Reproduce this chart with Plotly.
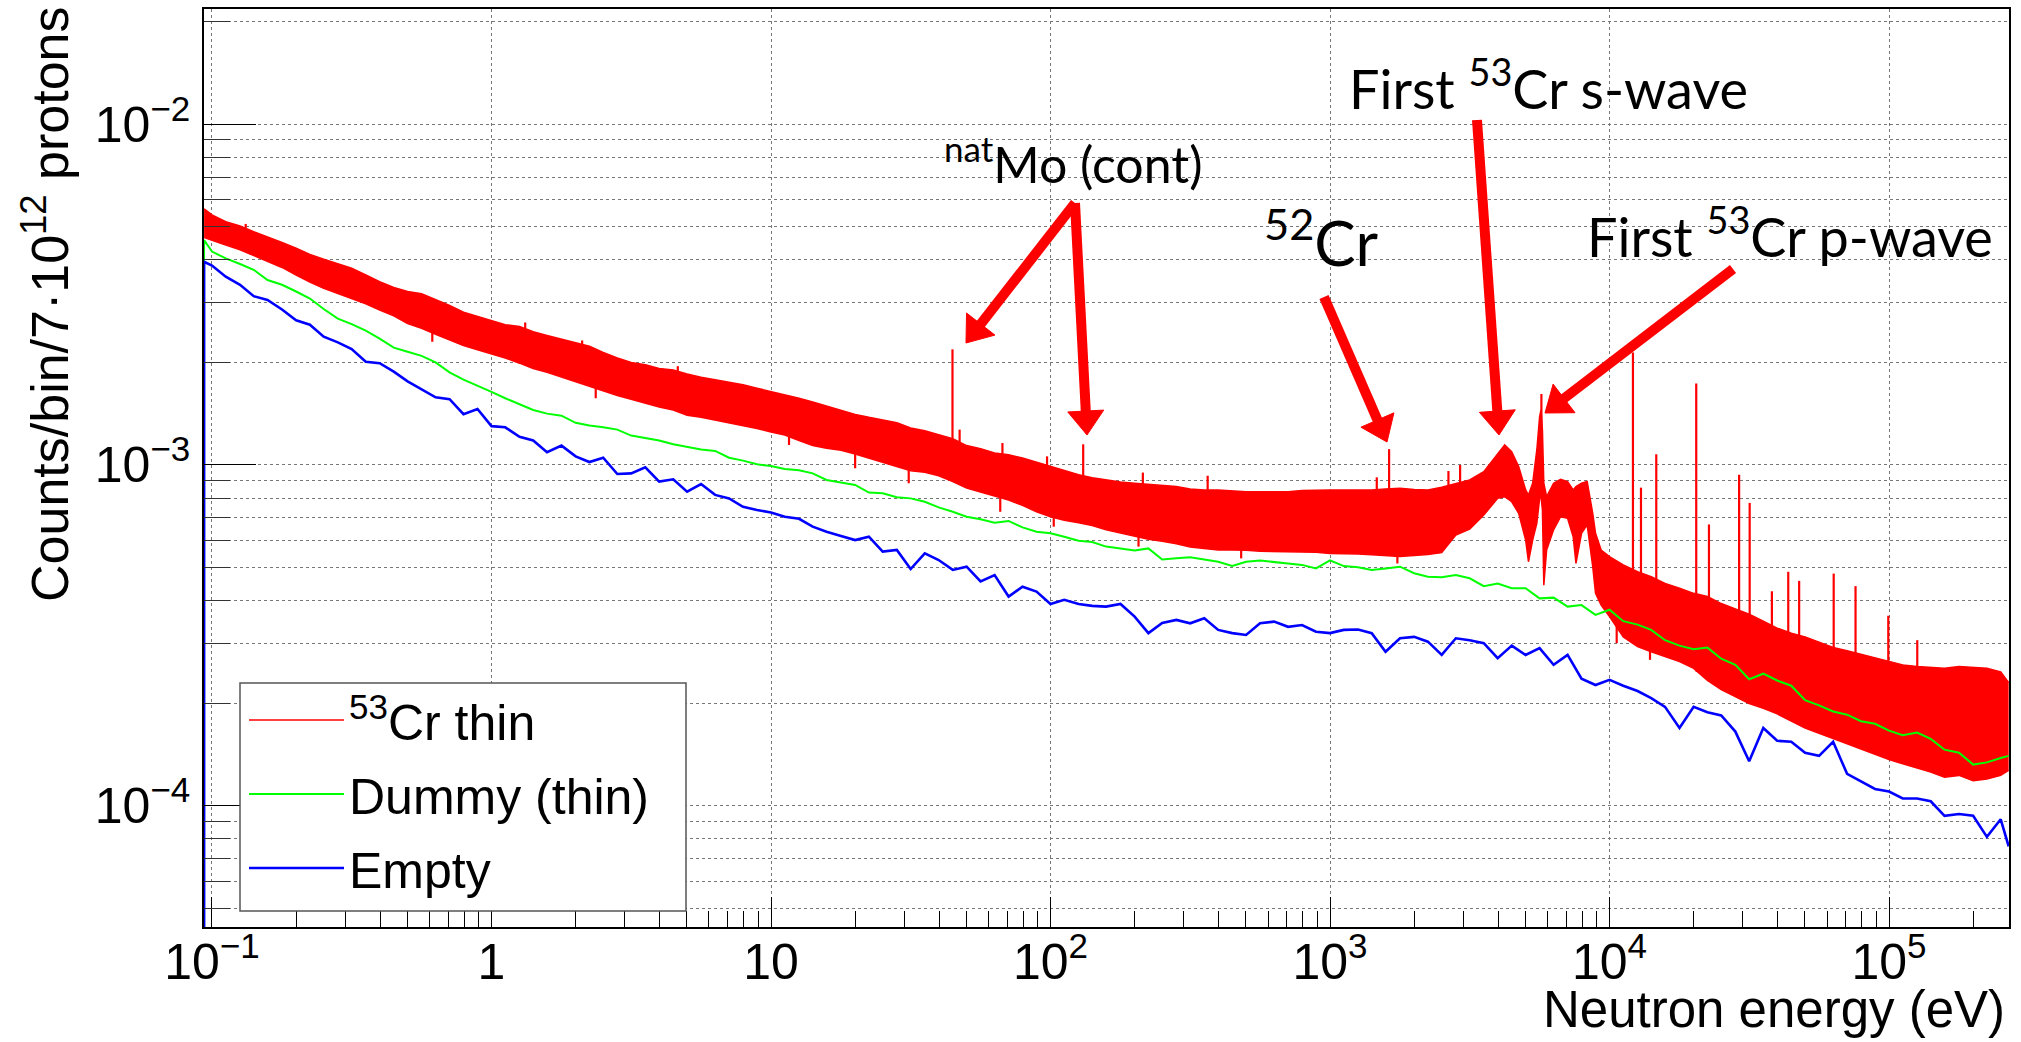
import math
import plotly.graph_objects as go

# ---------------- data ----------------
energy_ev = [
    0.0937,
    0.1, 0.112, 0.126, 0.141, 0.158, 0.178, 0.2, 0.224, 0.251, 0.282,
    0.316, 0.355, 0.398, 0.447, 0.501, 0.562, 0.631, 0.708, 0.794, 0.891,
    1.0, 1.12, 1.26, 1.41, 1.58, 1.78, 2.0, 2.24, 2.51, 2.82,
    3.16, 3.55, 3.98, 4.47, 5.01, 5.62, 6.31, 7.08, 7.94, 8.91,
    10, 11.2, 12.6, 14.1, 15.8, 17.8, 20, 22.4, 25.1, 28.2,
    31.6, 35.5, 39.8, 44.7, 50.1, 56.2, 63.1, 70.8, 79.4, 89.1,
    100, 112, 126, 141, 158, 178, 200, 224, 251, 282,
    316, 355, 398, 447, 501, 562, 631, 708, 794, 891,
    1000, 1120, 1260, 1410, 1580, 1780, 2000, 2240, 2510, 2820,
    3160, 3550, 3980, 4470, 5010, 5620, 6310, 7080, 7940, 8910,
    10000, 11200, 12600, 14100, 15800, 17800, 20000, 22400, 25100, 28200,
    31600, 35500, 39800, 44700, 50100, 56200, 63100, 70800, 79400, 89100,
    100000, 112000, 126000, 141000, 158000, 178000, 200000, 224000, 251000,
    268000,
]

dummy_thin = [
    4.57e-3,
    4.23e-3, 4.04e-3, 3.89e-3, 3.74e-3, 3.49e-3, 3.38e-3, 3.23e-3, 3.08e-3, 2.87e-3, 2.69e-3,
    2.59e-3, 2.48e-3, 2.35e-3, 2.21e-3, 2.15e-3, 2.09e-3, 2.00e-3, 1.87e-3, 1.78e-3, 1.71e-3,
    1.64e-3, 1.57e-3, 1.51e-3, 1.45e-3, 1.415e-3, 1.395e-3, 1.33e-3, 1.305e-3, 1.29e-3, 1.27e-3,
    1.22e-3, 1.20e-3, 1.18e-3, 1.15e-3, 1.13e-3, 1.11e-3, 1.10e-3, 1.05e-3, 1.03e-3, 1.005e-3,
    9.93e-4, 9.73e-4, 9.65e-4, 9.45e-4, 9.04e-4, 8.87e-4, 8.74e-4, 8.30e-4, 8.26e-4, 8.04e-4,
    7.98e-4, 7.80e-4, 7.51e-4, 7.29e-4, 7.05e-4, 6.93e-4, 6.77e-4, 6.85e-4, 6.56e-4, 6.37e-4,
    6.30e-4, 6.16e-4, 5.99e-4, 5.94e-4, 5.76e-4, 5.69e-4, 5.61e-4, 5.69e-4, 5.28e-4, 5.32e-4,
    5.36e-4, 5.28e-4, 5.20e-4, 5.05e-4, 5.20e-4, 5.24e-4, 5.20e-4, 5.14e-4, 5.09e-4, 4.97e-4,
    5.25e-4, 5.05e-4, 5.01e-4, 4.92e-4, 4.97e-4, 5.03e-4, 4.81e-4, 4.70e-4, 4.68e-4, 4.75e-4,
    4.65e-4, 4.41e-4, 4.49e-4, 4.35e-4, 4.35e-4, 4.06e-4, 4.08e-4, 3.84e-4, 3.88e-4, 3.63e-4,
    3.76e-4, 3.48e-4, 3.40e-4, 3.28e-4, 3.06e-4, 2.95e-4, 2.88e-4, 2.91e-4, 2.70e-4, 2.59e-4,
    2.35e-4, 2.44e-4, 2.33e-4, 2.25e-4, 2.04e-4, 1.97e-4, 1.89e-4, 1.85e-4, 1.77e-4, 1.74e-4,
    1.66e-4, 1.61e-4, 1.64e-4, 1.57e-4, 1.46e-4, 1.43e-4, 1.32e-4, 1.34e-4, 1.38e-4,
    1.40e-4,
]

empty = [
    3.95e-3,
    3.85e-3, 3.57e-3, 3.38e-3, 3.13e-3, 3.05e-3, 2.86e-3, 2.66e-3, 2.58e-3, 2.38e-3, 2.29e-3,
    2.19e-3, 2.01e-3, 1.99e-3, 1.88e-3, 1.76e-3, 1.67e-3, 1.58e-3, 1.56e-3, 1.41e-3, 1.46e-3,
    1.30e-3, 1.29e-3, 1.21e-3, 1.18e-3, 1.09e-3, 1.14e-3, 1.06e-3, 1.02e-3, 1.05e-3, 9.41e-4,
    9.45e-4, 9.84e-4, 8.94e-4, 9.08e-4, 8.35e-4, 8.79e-4, 8.17e-4, 7.98e-4, 7.54e-4, 7.38e-4,
    7.25e-4, 7.05e-4, 6.95e-4, 6.59e-4, 6.37e-4, 6.19e-4, 6.02e-4, 6.16e-4, 5.57e-4, 5.63e-4,
    4.95e-4, 5.50e-4, 5.26e-4, 4.92e-4, 5.03e-4, 4.55e-4, 4.75e-4, 4.11e-4, 4.39e-4, 4.25e-4,
    3.91e-4, 4.02e-4, 3.91e-4, 3.86e-4, 3.84e-4, 3.91e-4, 3.59e-4, 3.21e-4, 3.44e-4, 3.51e-4,
    3.43e-4, 3.55e-4, 3.28e-4, 3.21e-4, 3.17e-4, 3.43e-4, 3.47e-4, 3.35e-4, 3.39e-4, 3.24e-4,
    3.21e-4, 3.28e-4, 3.29e-4, 3.21e-4, 2.83e-4, 3.10e-4, 3.13e-4, 3.03e-4, 2.77e-4, 3.10e-4,
    3.06e-4, 3.00e-4, 2.71e-4, 2.95e-4, 2.77e-4, 2.90e-4, 2.59e-4, 2.77e-4, 2.36e-4, 2.26e-4,
    2.34e-4, 2.25e-4, 2.17e-4, 2.07e-4, 1.95e-4, 1.69e-4, 1.95e-4, 1.88e-4, 1.84e-4, 1.65e-4,
    1.35e-4, 1.69e-4, 1.55e-4, 1.54e-4, 1.43e-4, 1.40e-4, 1.54e-4, 1.24e-4, 1.18e-4, 1.12e-4,
    1.10e-4, 1.05e-4, 1.05e-4, 1.03e-4, 9.34e-5, 9.45e-5, 9.34e-5, 8.10e-5, 9.12e-5,
    7.6e-5,
]

cr53_energy_ev = [
    0.0937,
    0.1, 0.112, 0.126, 0.141, 0.158, 0.178, 0.2, 0.224, 0.251, 0.282,
    0.316, 0.355, 0.398, 0.447, 0.501, 0.562, 0.631, 0.708, 0.794, 0.891,
    1.0, 1.12, 1.26, 1.41, 1.58, 1.78, 2.0, 2.24, 2.51, 2.82,
    3.16, 3.55, 3.98, 4.47, 5.01, 5.62, 6.31, 7.08, 7.94, 8.91,
    10, 11.2, 12.6, 14.1, 15.8, 17.8, 20, 22.4, 25.1, 28.2,
    31.6, 35.5, 39.8, 44.7, 50.1, 56.2, 63.1, 70.8, 79.4, 89.1,
    100, 112, 126, 141, 158, 178, 200, 224, 251, 282,
    316, 355, 398, 447, 501, 562, 631, 708, 794, 891,
    1000, 1120, 1260, 1410, 1580, 1780, 2000, 2240, 2510, 2820,
    3160, 3550,
    3980, 4217, 4467, 4732, 5012, 5129, 5309, 5495, 5623, 5689, 5754, 5821,
    5957, 6310, 6683, 7079, 7413, 7586, 7943, 8318, 8710, 8913, 9333,
    10000, 11200, 12600, 14100, 15800, 17800, 20000, 22400, 25100, 28200,
    31600, 35500, 39800, 44700, 50100, 56200, 63100, 70800, 79400, 89100,
    100000, 112000, 126000, 141000, 158000, 178000, 200000, 224000, 251000,
    268000,
]

cr53_upper = [
    5.65e-3,
    5.42e-3, 5.18e-3, 5.03e-3, 4.84e-3, 4.68e-3, 4.50e-3, 4.33e-3, 4.15e-3, 4.02e-3, 3.89e-3,
    3.78e-3, 3.61e-3, 3.45e-3, 3.32e-3, 3.23e-3, 3.18e-3, 3.06e-3, 2.94e-3, 2.81e-3, 2.73e-3,
    2.65e-3, 2.58e-3, 2.55e-3, 2.46e-3, 2.40e-3, 2.34e-3, 2.29e-3, 2.23e-3, 2.14e-3, 2.06e-3,
    2.00e-3, 1.97e-3, 1.92e-3, 1.90e-3, 1.85e-3, 1.81e-3, 1.78e-3, 1.75e-3, 1.72e-3, 1.68e-3,
    1.645e-3, 1.605e-3, 1.57e-3, 1.53e-3, 1.487e-3, 1.447e-3, 1.408e-3, 1.38e-3, 1.358e-3, 1.331e-3,
    1.284e-3, 1.26e-3, 1.227e-3, 1.195e-3, 1.14e-3, 1.117e-3, 1.085e-3, 1.072e-3, 1.048e-3, 1.02e-3,
    9.91e-4, 9.62e-4, 9.37e-4, 9.18e-4, 9.04e-4, 8.92e-4, 8.84e-4, 8.76e-4, 8.70e-4, 8.64e-4,
    8.50e-4, 8.45e-4, 8.45e-4, 8.39e-4, 8.35e-4, 8.35e-4, 8.35e-4, 8.35e-4, 8.41e-4, 8.45e-4,
    8.45e-4, 8.45e-4, 8.45e-4, 8.45e-4, 8.50e-4, 8.54e-4, 8.48e-4, 8.45e-4, 8.60e-4, 8.84e-4,
    9.04e-4, 9.56e-4,
    1.082e-3, 1.145e-3, 1.094e-3, 9.89e-4, 8.45e-4, 8.16e-4, 8.84e-4, 1.107e-3, 1.386e-3, 1.45e-3, 1.267e-3, 8.84e-4,
    8.07e-4, 8.84e-4, 9.08e-4, 8.94e-4, 8.45e-4, 8.64e-4, 8.84e-4, 8.94e-4, 7.21e-4, 6.30e-4, 5.63e-4,
    5.38e-4, 5.09e-4, 4.86e-4, 4.70e-4, 4.49e-4, 4.35e-4, 4.20e-4, 4.11e-4, 3.92e-4, 3.78e-4,
    3.65e-4, 3.48e-4, 3.32e-4, 3.21e-4, 3.13e-4, 3.02e-4, 2.915e-4, 2.85e-4, 2.78e-4, 2.715e-4,
    2.65e-4, 2.59e-4, 2.56e-4, 2.54e-4, 2.53e-4, 2.56e-4, 2.54e-4, 2.53e-4, 2.47e-4,
    2.30e-4,
]

cr53_lower = [
    4.65e-3,
    4.56e-3, 4.42e-3, 4.28e-3, 4.11e-3, 3.95e-3, 3.80e-3, 3.61e-3, 3.44e-3, 3.30e-3, 3.19e-3,
    3.08e-3, 2.97e-3, 2.85e-3, 2.74e-3, 2.60e-3, 2.52e-3, 2.42e-3, 2.33e-3, 2.24e-3, 2.18e-3,
    2.12e-3, 2.06e-3, 1.99e-3, 1.92e-3, 1.87e-3, 1.81e-3, 1.76e-3, 1.70e-3, 1.65e-3, 1.60e-3,
    1.56e-3, 1.52e-3, 1.48e-3, 1.45e-3, 1.40e-3, 1.38e-3, 1.355e-3, 1.33e-3, 1.31e-3, 1.28e-3,
    1.25e-3, 1.225e-3, 1.18e-3, 1.14e-3, 1.12e-3, 1.104e-3, 1.077e-3, 1.046e-3, 1.016e-3, 9.89e-4,
    9.62e-4, 9.52e-4, 9.30e-4, 8.94e-4, 8.56e-4, 8.33e-4, 8.09e-4, 7.89e-4, 7.61e-4, 7.29e-4,
    7.05e-4, 6.88e-4, 6.77e-4, 6.64e-4, 6.45e-4, 6.32e-4, 6.19e-4, 6.05e-4, 5.97e-4, 5.87e-4,
    5.74e-4, 5.67e-4, 5.63e-4, 5.63e-4, 5.62e-4, 5.58e-4, 5.57e-4, 5.57e-4, 5.57e-4, 5.54e-4,
    5.50e-4, 5.50e-4, 5.48e-4, 5.45e-4, 5.42e-4, 5.39e-4, 5.42e-4, 5.46e-4, 5.53e-4, 6.23e-4,
    6.48e-4, 7.13e-4,
    7.98e-4, 8.07e-4, 7.80e-4, 7.21e-4, 6.02e-4, 5.20e-4, 6.02e-4, 6.74e-4, 7.98e-4, 8.07e-4, 7.38e-4, 4.44e-4,
    5.63e-4, 6.45e-4, 7.05e-4, 6.97e-4, 6.16e-4, 5.14e-4, 6.30e-4, 6.67e-4, 5.03e-4, 4.20e-4, 3.88e-4,
    3.59e-4, 3.13e-4, 2.93e-4, 2.83e-4, 2.74e-4, 2.65e-4, 2.53e-4, 2.33e-4, 2.19e-4, 2.09e-4,
    1.995e-4, 1.93e-4, 1.86e-4, 1.77e-4, 1.69e-4, 1.63e-4, 1.57e-4, 1.52e-4, 1.466e-4, 1.415e-4,
    1.365e-4, 1.327e-4, 1.292e-4, 1.256e-4, 1.212e-4, 1.227e-4, 1.184e-4, 1.198e-4, 1.227e-4,
    1.27e-4,
]

# isolated single-bin excursions of the 53Cr spectrum (resonances and fluctuations)
spike_energy_ev = [
    0.132, 1.32, 2.11, 4.64, 44.6, 47.3, 67.3, 97.2, 130.9, 214,
    365, 1470, 1627, 2653, 2921, 5706, 12130, 12960, 14700, 20430,
    22690, 29090, 31730, 38100, 43600, 47700, 63400, 75900, 99400, 126200,
    0.614, 2.36, 11.6, 20.0, 31.1, 66.1, 102.7, 206.5, 481, 1742,
    10610, 13960, 20510,
]
spike_base = [
    4.4e-3, 2.1e-3, 1.9e-3, 1.6e-3, 1.0e-3, 1.0e-3, 8.5e-4, 8.0e-4, 7.5e-4, 7.0e-4,
    6.5e-4, 6.5e-4, 6.5e-4, 7.0e-4, 7.5e-4, 8.0e-4, 3.0e-4, 3.0e-4, 3.0e-4, 2.5e-4,
    2.5e-4, 2.2e-4, 2.2e-4, 2.0e-4, 2.0e-4, 2.0e-4, 1.8e-4, 1.7e-4, 1.6e-4, 1.5e-4,
    2.8e-3, 2.0e-3, 1.4e-3, 1.2e-3, 1.1e-3, 9.0e-4, 8.0e-4, 7.0e-4, 6.5e-4, 6.5e-4,
    4.0e-4, 3.5e-4, 3.2e-4,
]
spike_tip = [
    5.1e-3, 2.62e-3, 2.32e-3, 1.95e-3, 2.185e-3, 1.27e-3, 1.16e-3, 1.06e-3, 1.15e-3, 9.5e-4,
    9.3e-4, 9.2e-4, 1.113e-3, 9.6e-4, 1.0e-3, 1.616e-3, 2.14e-3, 8.58e-4, 1.075e-3, 1.735e-3,
    6.69e-4, 9.36e-4, 7.74e-4, 4.26e-4, 4.86e-4, 4.57e-4, 4.80e-4, 4.41e-4, 3.61e-4, 3.06e-4,
    2.30e-3, 1.57e-3, 1.145e-3, 9.78e-4, 8.84e-4, 7.29e-4, 6.59e-4, 5.76e-4, 5.32e-4, 5.14e-4,
    3.0e-4, 2.68e-4, 2.47e-4,
]

hist_floor = 1e-6  # histogram drawn from zero (below the visible range)

x_tick_vals = [0.1, 1, 10, 100, 1e3, 1e4, 1e5]
x_tick_text = ["10<sup>−1</sup>", "1", "10", "10<sup>2</sup>", "10<sup>3</sup>",
               "10<sup>4</sup>", "10<sup>5</sup>"]
y_tick_vals = [1e-4, 1e-3, 1e-2]
y_tick_text = ["10<sup>−4</sup>", "10<sup>−3</sup>", "10<sup>−2</sup>"]

legend_names = ["<sup>53</sup>Cr thin", "Dummy (thin)", "Empty"]

# ---------------- styling ----------------
RED, GREEN, BLUE = "#ff0000", "#00ff00", "#0000ff"
ROOT_FONT = "Liberation Sans, Arial, Helvetica, sans-serif"
NOTE_FONT = "Lato, Carlito, Open Sans, sans-serif"

fig = go.Figure()

fig.add_trace(go.Scatter(
    x=cr53_energy_ev, y=cr53_lower, mode="lines",
    line=dict(color=RED, width=1.5), name=legend_names[0],
    legendgroup="cr", showlegend=True, hoverinfo="skip"))
fig.add_trace(go.Scatter(
    x=cr53_energy_ev, y=cr53_upper, mode="lines", fill="tonexty",
    fillcolor=RED, line=dict(color=RED, width=1.5),
    legendgroup="cr", showlegend=False, hoverinfo="skip"))

sx, sy = [], []
for e, b, t in zip(spike_energy_ev, spike_base, spike_tip):
    sx += [e, e, None]
    sy += [b, t, None]
fig.add_trace(go.Scatter(
    x=sx, y=sy, mode="lines", line=dict(color=RED, width=2.2),
    legendgroup="cr", showlegend=False, hoverinfo="skip"))

fig.add_trace(go.Scatter(
    x=[energy_ev[0]] + energy_ev, y=[hist_floor] + dummy_thin, mode="lines",
    line=dict(color=GREEN, width=2), name=legend_names[1],
    legendgroup="dummy", hoverinfo="skip"))
fig.add_trace(go.Scatter(
    x=[energy_ev[0]] + energy_ev, y=[hist_floor] + empty, mode="lines",
    line=dict(color=BLUE, width=2.6), name=legend_names[2],
    legendgroup="empty", hoverinfo="skip"))

x_minor = [m * 10.0 ** d for d in range(-2, 6) for m in range(2, 10)]
y_minor = [m * 10.0 ** d for d in range(-5, -1) for m in range(2, 10)]

W, H = 2021, 1042
L_M, R_M, T_M, B_M = 204, 12, 9, 115
PW, PH = W - L_M - R_M, H - T_M - B_M


def px(xp):
    return (xp - L_M) / PW


def py(yp):
    return (H - B_M - yp) / PH


fig.update_layout(
    width=W, height=H,
    margin=dict(l=L_M, r=R_M, t=T_M, b=B_M, autoexpand=False),
    paper_bgcolor="white", plot_bgcolor="white",
    font=dict(family=ROOT_FONT, color="black", size=48),
    hovermode=False,
    legend=dict(
        x=px(244), y=py(681), xanchor="left", yanchor="top",
        bgcolor="rgba(0,0,0,0)", borderwidth=0,
        font=dict(family=ROOT_FONT, size=50, color="black"),
        traceorder="grouped", tracegroupgap=6,
        itemwidth=95,
    ),
    xaxis=dict(
        type="log", range=[-1.0286, 5.4293],
        tickmode="array", tickvals=x_tick_vals, ticktext=x_tick_text,
        ticks="inside", ticklen=30, tickwidth=1, tickcolor="black",
        showline=True, linecolor="black", linewidth=1.5, mirror=True,
        showgrid=True, gridcolor="#777777", griddash="dot", gridwidth=1,
        zeroline=False, ticklabelstandoff=-10,
        tickfont=dict(family=ROOT_FONT, size=50, color="black"),
        minor=dict(tickmode="array", tickvals=x_minor, ticks="inside",
                   ticklen=16, tickwidth=1, tickcolor="black", showgrid=False),
    ),
    yaxis=dict(
        type="log", range=[-4.3561, -1.6616],
        tickmode="array", tickvals=y_tick_vals, ticktext=y_tick_text,
        ticks="inside", ticklen=52, tickwidth=1, tickcolor="black",
        showline=True, linecolor="black", linewidth=1.5, mirror=True,
        showgrid=True, gridcolor="#777777", griddash="dot", gridwidth=1,
        zeroline=False, ticklabelstandoff=2,
        tickfont=dict(family=ROOT_FONT, size=50, color="black"),
        minor=dict(tickmode="array", tickvals=y_minor, ticks="inside",
                   ticklen=26, tickwidth=1, tickcolor="#333333",
                   showgrid=True, gridcolor="#777777", griddash="dot", gridwidth=1),
    ),
)

# legend frame (ROOT TLegend box)
fig.add_shape(type="rect", xref="paper", yref="paper",
              x0=px(240), x1=px(686), y0=py(911), y1=py(683),
              line=dict(color="#555555", width=1.5), fillcolor="white",
              layer="above")

# axis titles (ROOT style: aligned to the axis end)
fig.add_annotation(text="Counts/bin/7·10<sup>12</sup> protons", textangle=-90,
                   xref="paper", yref="paper", x=px(46), y=py(4),
                   xanchor="center", yanchor="top", showarrow=False,
                   font=dict(family=ROOT_FONT, size=52, color="black"))
fig.add_annotation(text="Neutron energy (eV)",
                   xref="paper", yref="paper", x=px(2007), y=py(1009),
                   xanchor="right", yanchor="middle", showarrow=False,
                   font=dict(family=ROOT_FONT, size=51, color="black"))

# labels of the marked features
notes = [
    ("<sup>nat</sup>Mo (cont)", 1073, 160, 50),
    ("<sup>52</sup>Cr", 1321, 238, 62),
    ("First <sup>53</sup>Cr s-wave", 1548, 85, 54),
    ("First <sup>53</sup>Cr p-wave", 1790, 233, 54),
]
for txt, xc, yc, fs in notes:
    fig.add_annotation(text=txt, xref="paper", yref="paper", x=px(xc), y=py(yc),
                       xanchor="center", yanchor="middle", showarrow=False,
                       font=dict(family=NOTE_FONT, size=fs, color="black"))

# thick red arrows (tail -> tip, page pixels), drawn as shaft + filled head
arrows = [
    ((1075, 203), (966, 343)),
    ((1075, 203), (1087, 435)),
    ((1324, 297), (1387, 442)),
    ((1477, 120), (1499, 435)),
    ((1733, 269), (1545, 413)),
]
HEAD_LEN, HEAD_HALF, SHAFT_W = 24, 18, 10
for (tx, ty), (hx, hy) in arrows:
    dx, dy = hx - tx, hy - ty
    n = math.hypot(dx, dy)
    ux, uy = dx / n, dy / n
    bx, by = hx - ux * HEAD_LEN, hy - uy * HEAD_LEN
    fig.add_shape(type="line", xref="paper", yref="paper",
                  x0=px(tx), y0=py(ty), x1=px(bx + ux * 2), y1=py(by + uy * 2),
                  line=dict(color=RED, width=SHAFT_W), layer="above")
    lx, ly = bx - uy * HEAD_HALF, by + ux * HEAD_HALF
    rx, ry = bx + uy * HEAD_HALF, by - ux * HEAD_HALF
    path = (f"M {px(hx):.5f} {py(hy):.5f} L {px(lx):.5f} {py(ly):.5f} "
            f"L {px(rx):.5f} {py(ry):.5f} Z")
    fig.add_shape(type="path", xref="paper", yref="paper", path=path,
                  fillcolor=RED, line=dict(color=RED, width=1), layer="above")

fig.write_html("out.html", include_plotlyjs=True, full_html=True,
               config={"displayModeBar": False},
               post_script="document.body.style.margin='0px';"
                           "document.body.style.overflow='hidden';")
